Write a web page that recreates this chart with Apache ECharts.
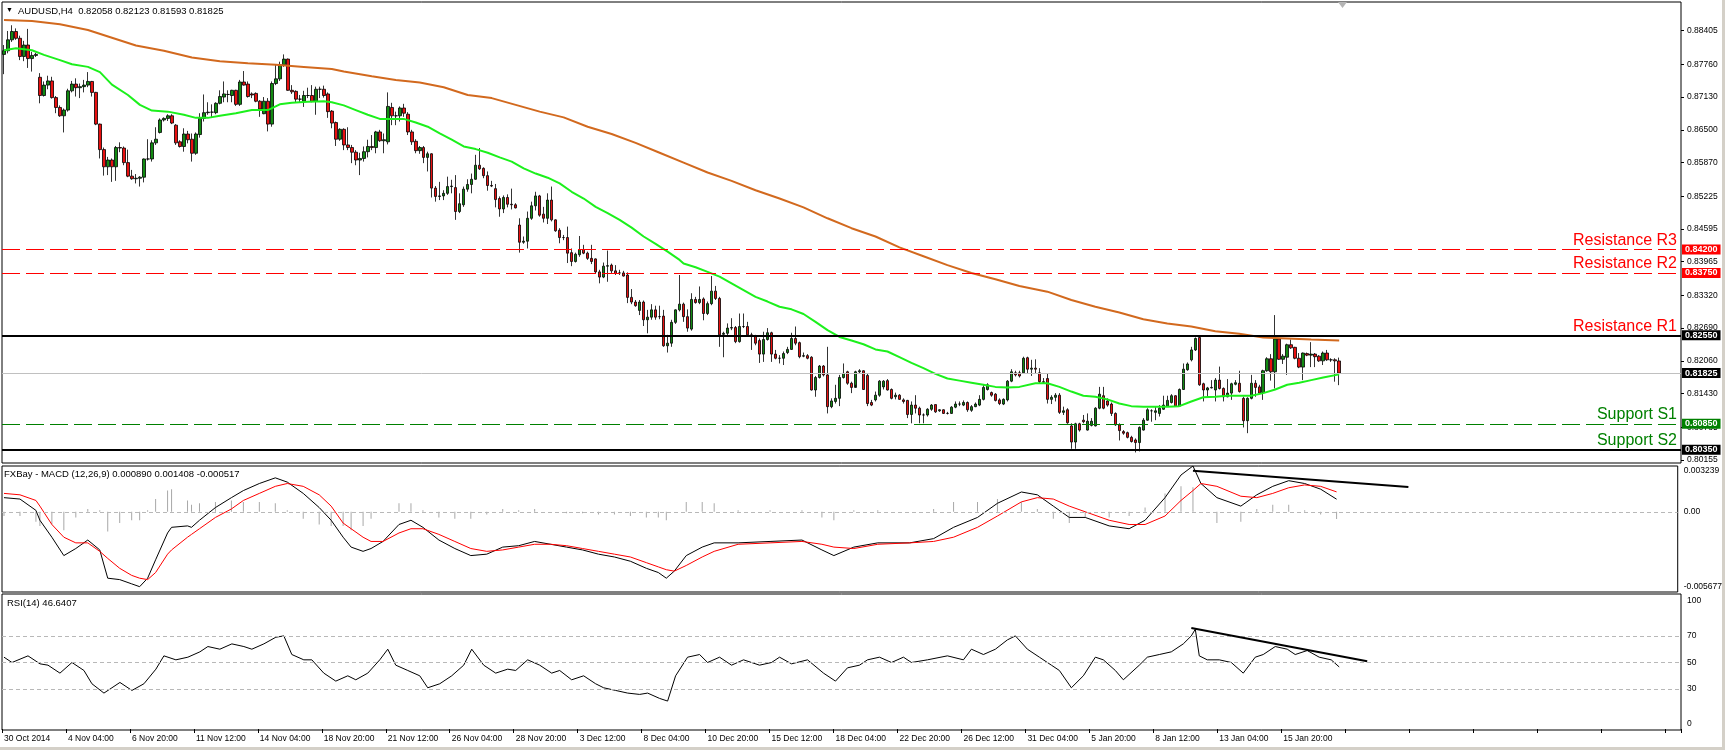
<!DOCTYPE html>
<html><head><meta charset="utf-8">
<script src="https://cdn.jsdelivr.net/npm/echarts@6/dist/echarts.min.js"></script>
<style>html,body{margin:0;padding:0;background:#fff;}#c{width:1725px;height:750px;}</style>
</head><body><div id="c"></div>
<script>
const tickLabels = ['30 Oct 2014','4 Nov 04:00','6 Nov 20:00','11 Nov 12:00','14 Nov 04:00','18 Nov 20:00','21 Nov 12:00','26 Nov 04:00','28 Nov 20:00','3 Dec 12:00','8 Dec 04:00','10 Dec 20:00','15 Dec 12:00','18 Dec 04:00','22 Dec 20:00','26 Dec 12:00','31 Dec 04:00','5 Jan 20:00','8 Jan 12:00','13 Jan 04:00','15 Jan 20:00'];

const opens = [.8795,.8802,.8823,.8839,.8826,.8791,.8813,.8787,.8793,.8751,.8716,.8736,.8744,.8712,.8693,.8677,.8688,.8725,.8738,.8731,.8733,.8736,.8743,.8722,.8661,.8612,.8579,.8592,.8579,.8616,.8615,.8587,.8561,.8556,.8557,.8559,.8594,.8594,.8625,.8645,.8669,.8672,.8677,.8659,.8627,.8618,.8642,.8632,.8605,.8641,.8672,.8683,.8684,.8683,.8701,.8713,.8718,.8716,.8726,.8699,.8742,.8738,.8719,.8720,.8705,.8681,.8705,.8661,.8739,.8748,.8775,.8786,.8726,.8724,.8709,.8705,.8716,.8716,.8705,.8728,.8728,.8719,.8686,.8664,.8632,.8651,.8621,.8616,.8607,.8592,.8595,.8608,.8618,.8616,.8646,.8629,.8627,.8693,.8677,.8677,.8692,.8680,.8646,.8628,.8610,.8616,.8597,.8604,.8538,.8522,.8523,.8528,.8541,.8539,.8493,.8506,.8536,.8545,.8555,.8582,.8576,.8562,.8543,.8537,.8518,.8498,.8520,.8507,.8506,.8467,.8434,.8436,.8480,.8504,.8523,.8488,.8480,.8515,.8477,.8457,.8443,.8443,.8414,.8397,.8410,.8420,.8413,.8403,.8402,.8377,.8367,.8388,.8390,.8379,.8375,.8375,.8371,.8328,.8319,.8303,.8319,.8285,.8290,.8304,.8291,.8292,.8235,.8240,.8280,.8304,.8315,.8291,.8267,.8324,.8318,.8325,.8297,.8316,.8340,.8326,.8257,.8259,.8269,.8270,.8243,.8272,.8272,.8256,.8253,.8245,.8219,.8247,.8260,.8219,.8211,.8211,.8222,.8228,.8249,.8241,.8215,.8216,.8213,.8150,.8174,.8196,.8179,.8118,.8128,.8134,.8174,.8185,.8163,.8155,.8185,.8187,.8178,.8126,.8131,.8140,.8156,.8168,.8151,.8137,.8140,.8131,.8130,.8103,.8121,.8115,.8102,.8102,.8113,.8122,.8110,.8112,.8105,.8105,.8117,.8123,.8121,.8126,.8111,.8118,.8121,.8132,.8151,.8145,.8142,.8131,.8123,.8131,.8167,.8183,.8183,.8183,.8212,.8190,.8192,.8183,.8166,.8172,.8132,.8136,.8140,.8107,.8112,.8081,.8050,.8085,.8092,.8073,.8082,.8081,.8115,.8139,.8129,.8123,.8105,.8083,.8070,.8068,.8059,.8054,.8049,.8073,.8092,.8110,.8107,.8105,.8113,.8119,.8126,.8139,.8119,.8151,.8189,.8208,.8227,.8251,.8162,.8150,.8154,.8150,.8169,.8153,.8137,.8144,.8161,.8163,.8134,.8091,.8134,.8163,.8156,.8145,.8187,.8210,.8185,.8248,.8209,.8213,.8237,.8232,.8211,.8194,.8220,.8217,.8219,.8215,.8206,.8221,.8208,.8208,.82058];
const closes = [.8802,.8823,.8839,.8826,.8791,.8813,.8787,.8793,.8795,.8716,.8736,.8744,.8712,.8693,.8677,.8688,.8725,.8738,.8731,.8733,.8736,.8743,.8722,.8661,.8612,.8579,.8592,.8579,.8616,.8615,.8587,.8561,.8556,.8557,.8559,.8594,.8594,.8625,.8632,.8669,.8672,.8677,.8663,.8625,.8618,.8642,.8631,.8605,.8642,.8672,.8683,.8684,.8684,.8701,.8714,.8719,.8718,.8726,.8699,.8742,.8736,.8714,.8717,.8705,.8690,.8705,.8661,.8739,.8748,.8775,.8786,.8726,.8723,.8709,.8709,.8716,.8716,.8705,.8728,.8728,.8716,.8685,.8663,.8632,.8651,.8621,.8616,.8607,.8592,.8595,.8608,.8618,.8616,.8646,.8629,.8631,.8695,.8677,.8677,.8692,.8682,.8646,.8627,.8610,.8616,.8597,.8604,.8538,.8522,.8523,.8528,.8541,.8542,.8493,.8508,.8536,.8545,.8555,.8582,.8575,.8562,.8543,.8542,.8516,.8498,.8520,.8507,.8506,.8500,.8434,.8436,.8480,.8504,.8523,.8486,.8480,.8515,.8477,.8456,.8443,.8443,.8413,.8397,.8411,.8420,.8413,.8403,.8397,.8377,.8367,.8388,.8389,.8379,.8374,.8375,.8369,.8328,.8319,.8312,.8319,.8285,.8290,.8304,.8290,.8291,.8235,.8240,.8280,.8304,.8315,.8291,.8269,.8324,.8318,.8324,.8297,.8316,.8340,.8326,.8256,.8259,.8269,.8270,.8243,.8272,.8272,.8256,.8254,.8240,.8219,.8247,.8260,.8219,.8211,.8211,.8220,.8228,.8249,.8240,.8214,.8216,.8211,.8150,.8174,.8196,.8179,.8118,.8129,.8134,.8174,.8182,.8163,.8155,.8185,.8187,.8151,.8124,.8121,.8140,.8167,.8167,.8150,.8134,.8140,.8132,.8128,.8103,.8121,.8115,.8102,.8102,.8113,.8121,.8108,.8112,.8105,.8105,.8117,.8123,.8123,.8126,.8112,.8118,.8123,.8132,.8155,.8160,.8140,.8130,.8124,.8132,.8167,.8185,.8179,.8177,.8211,.8190,.8192,.8190,.8166,.8165,.8132,.8136,.8140,.8107,.8110,.8087,.8050,.8085,.8073,.8089,.8090,.8090,.8115,.8142,.8115,.8121,.8105,.8083,.8072,.8067,.8059,.8051,.8049,.8078,.8092,.8112,.8110,.8110,.8115,.8121,.8130,.8139,.8119,.8151,.8190,.8200,.8227,.8249,.8160,.8150,.8154,.8155,.8169,.8153,.8137,.8144,.8162,.8164,.8147,.8091,.8134,.8163,.8155,.8144,.8187,.8210,.8185,.8248,.8209,.8215,.8237,.8231,.8211,.8194,.8221,.8217,.8219,.8214,.8206,.8221,.8208,.8208,.8206,.81825];
const highs = [.8813,.8840,.8851,.8845,.8831,.8821,.8844,.8800,.8798,.8759,.8743,.8754,.8752,.8715,.8697,.8691,.8729,.8744,.8749,.8739,.8746,.8761,.8744,.8723,.8662,.8616,.8598,.8595,.8619,.8626,.8618,.8612,.8573,.8565,.8561,.8595,.8632,.8630,.8655,.8672,.8674,.8680,.8680,.8661,.8630,.8653,.8648,.8643,.8645,.8682,.8718,.8703,.8699,.8703,.8726,.8743,.8726,.8727,.8727,.8746,.8763,.8743,.8722,.8722,.8707,.8713,.8711,.8743,.8775,.8781,.8795,.8787,.8736,.8726,.8717,.8725,.8731,.8736,.8733,.8733,.8735,.8722,.8688,.8666,.8653,.8653,.8655,.8621,.8611,.8606,.8618,.8631,.8640,.8648,.8650,.8643,.8722,.8702,.8685,.8695,.8700,.8684,.8650,.8632,.8619,.8619,.8608,.8605,.8542,.8550,.8534,.8560,.8554,.8563,.8528,.8541,.8555,.8566,.8602,.8615,.8578,.8570,.8552,.8546,.8522,.8524,.8526,.8537,.8509,.8480,.8445,.8493,.8512,.8531,.8525,.8502,.8528,.8541,.8478,.8461,.8448,.8464,.8422,.8414,.8446,.8429,.8416,.8429,.8403,.8381,.8395,.8418,.8393,.8390,.8381,.8379,.8376,.8344,.8323,.8323,.8322,.8304,.8315,.8312,.8312,.8304,.8256,.8285,.8305,.8371,.8318,.8305,.8336,.8329,.8349,.8328,.8320,.8369,.8350,.8329,.8262,.8278,.8288,.8273,.8297,.8297,.8281,.8260,.8256,.8249,.8262,.8269,.8262,.8227,.8217,.8224,.8233,.8260,.8272,.8243,.8222,.8219,.8215,.8177,.8198,.8198,.8233,.8134,.8160,.8179,.8201,.8187,.8166,.8187,.8190,.8188,.8181,.8131,.8147,.8169,.8169,.8171,.8153,.8145,.8142,.8134,.8131,.8128,.8140,.8118,.8105,.8115,.8123,.8122,.8113,.8113,.8108,.8119,.8128,.8128,.8130,.8128,.8121,.8126,.8140,.8160,.8163,.8147,.8144,.8134,.8134,.8169,.8190,.8187,.8187,.8214,.8214,.8208,.8209,.8192,.8173,.8182,.8140,.8144,.8144,.8118,.8115,.8086,.8087,.8087,.8102,.8105,.8096,.8117,.8156,.8156,.8134,.8126,.8107,.8086,.8073,.8070,.8062,.8057,.8080,.8096,.8115,.8113,.8118,.8121,.8139,.8139,.8142,.8140,.8153,.8201,.8203,.8233,.8251,.8254,.8164,.8156,.8169,.8173,.8195,.8155,.8171,.8164,.8169,.8187,.8137,.8136,.8179,.8169,.8160,.8189,.8213,.8219,.8294,.8249,.8219,.8239,.8247,.8233,.8221,.8222,.8222,.8242,.8221,.8217,.8224,.8227,.8211,.8211,.82123];
const lows = [.8757,.8797,.8819,.8823,.8784,.8782,.8769,.8762,.8790,.8701,.8714,.8728,.8710,.8682,.8675,.8645,.8685,.8722,.8714,.8711,.8722,.8732,.8714,.8659,.8595,.8562,.8563,.8550,.8552,.8607,.8582,.8559,.8554,.8547,.8541,.8549,.8591,.8589,.8621,.8643,.8666,.8667,.8661,.8621,.8616,.8608,.8624,.8589,.8602,.8635,.8666,.8679,.8673,.8680,.8699,.8703,.8703,.8703,.8696,.8696,.8735,.8712,.8711,.8703,.8675,.8680,.8647,.8656,.8736,.8744,.8771,.8725,.8719,.8703,.8703,.8694,.8711,.8703,.8679,.8711,.8712,.8673,.8653,.8619,.8629,.8611,.8611,.8586,.8582,.8563,.8589,.8597,.8611,.8605,.8627,.8605,.8622,.8659,.8659,.8666,.8675,.8640,.8621,.8605,.8604,.8586,.8570,.8520,.8512,.8515,.8515,.8525,.8528,.8477,.8490,.8502,.8531,.8528,.8554,.8573,.8557,.8533,.8540,.8501,.8483,.8490,.8501,.8497,.8499,.8414,.8431,.8422,.8477,.8495,.8483,.8472,.8469,.8474,.8454,.8432,.8438,.8394,.8388,.8395,.8406,.8411,.8400,.8392,.8374,.8355,.8365,.8358,.8374,.8371,.8371,.8368,.8317,.8315,.8310,.8294,.8273,.8259,.8285,.8285,.8286,.8233,.8222,.8233,.8277,.8301,.8281,.8262,.8264,.8316,.8315,.8284,.8294,.8313,.8323,.8233,.8213,.8254,.8265,.8240,.8241,.8269,.8252,.8227,.8236,.8202,.8204,.8245,.8204,.8209,.8201,.8198,.8219,.8227,.8236,.8211,.8213,.8209,.8149,.8137,.8172,.8176,.8105,.8115,.8124,.8119,.8172,.8160,.8144,.8160,.8182,.8150,.8119,.8119,.8128,.8137,.8151,.8149,.8132,.8132,.8131,.8124,.8096,.8086,.8105,.8086,.8086,.8099,.8110,.8106,.8108,.8104,.8103,.8104,.8115,.8119,.8119,.8108,.8108,.8117,.8119,.8130,.8149,.8137,.8128,.8121,.8121,.8128,.8165,.8176,.8174,.8181,.8181,.8177,.8182,.8163,.8163,.8124,.8123,.8128,.8104,.8102,.8085,.8037,.8037,.8070,.8086,.8072,.8080,.8080,.8113,.8113,.8118,.8100,.8081,.8053,.8064,.8057,.8049,.8030,.8032,.8072,.8091,.8089,.8092,.8099,.8112,.8118,.8124,.8118,.8118,.8150,.8187,.8205,.8225,.8158,.8128,.8137,.8153,.8128,.8151,.8128,.8136,.8131,.8159,.8145,.8078,.8067,.8132,.8137,.8142,.8131,.8185,.8168,.8153,.8208,.8200,.8179,.8229,.8209,.8192,.8169,.8215,.8194,.8194,.8204,.8198,.8206,.8204,.8166,.81593];

const fastMA = [[0,.8803],[3,.8807],[7,.8803],[10,.8794],[14,.8784],[17,.8776],[21,.8771],[24,.8761],[27,.8737],[31,.8717],[34,.8698],[37,.8687],[41,.8685],[45,.8679],[48,.8673],[51,.8673],[54,.8677],[58,.8682],[62,.8688],[66,.8688],[69,.8699],[72,.8702],[76,.8704],[80,.8705],[82,.8703],[85,.8697],[88,.8688],[91,.8679],[94,.8671],[97,.8671],[100,.8671],[103,.8664],[106,.8656],[109,.8643],[112,.8631],[115,.8618],[118,.8613],[121,.8606],[124,.8597],[127,.8589],[130,.8576],[133,.8566],[136,.8558],[139,.8547],[142,.8531],[145,.8518],[148,.8502],[151,.8490],[154,.8477],[157,.8462],[160,.8445],[163,.8431],[166,.8416],[169,.8400],[170,.8393],[173,.8386],[176,.8377],[179,.8368],[182,.8355],[185,.8342],[188,.8329],[191,.8320],[194,.8310],[197,.8305],[200,.8296],[203,.8281],[206,.8265],[209,.8252],[212,.8245],[215,.8238],[218,.8228],[221,.8224],[224,.8213],[227,.8202],[230,.8192],[233,.8181],[236,.8172],[239,.8168],[242,.8164],[245,.8160],[248,.8156],[251,.8155],[254,.8156],[258,.8163],[261,.8163],[264,.8156],[267,.8147],[270,.8139],[273,.8137],[276,.8132],[279,.8124],[282,.8119],[285,.8118],[288,.8118],[291,.8118],[294,.8119],[297,.8128],[300,.8136],[303,.8137],[306,.8139],[309,.8139],[312,.8139],[315,.8144],[318,.8151],[321,.8160],[324,.8164],[327,.8169],[330,.8174],[334,.8180]];
const slowMA = [[0,.8861],[7,.8859],[14,.8853],[21,.8842],[27,.8827],[33,.8812],[40,.8802],[47,.8789],[54,.8782],[61,.8778],[68,.8775],[75,.8771],[82,.8767],[85,.8762],[92,.8753],[98,.8746],[104,.8741],[110,.8732],[116,.8717],[122,.8711],[128,.8698],[134,.8685],[140,.8674],[146,.8656],[152,.8642],[158,.8625],[164,.8606],[170,.8587],[176,.8568],[182,.8552],[188,.8534],[194,.8518],[200,.8501],[206,.8480],[212,.8461],[218,.8445],[224,.8424],[230,.8407],[236,.8390],[242,.8375],[248,.8363],[254,.8350],[261,.8339],[267,.8323],[273,.8310],[279,.8299],[285,.8286],[291,.8278],[297,.8272],[303,.8263],[309,.8258],[315,.8251],[321,.8249],[327,.8247],[334,.8245]];

const macdBars = [0,4,8,9,12,15,18,21,24,26,29,32,34,36,38,41,42,46,47,49,53,57,60,64,68,71,75,79,82,85,87,90,92,95,99,102,105,109,113,117,121,125,129,133,137,141,145,149,153,157,161,164,166,168,171,175,178,184,192,200,205,208,213,219,227,233,238,244,249,255,259,263,267,271,277,282,286,291,295,298,300,304,310,314,318,322,326,330,334];
const macdMain = [.0010,.0009,.0001,-.0006,-.0018,-.0031,-.0026,-.0020,-.0027,-.0047,-.0048,-.0051,-.0053,-.0047,-.0034,-.0015,-.0011,-.0010,-.0011,-.0006,.0003,.0010,.0015,.0020,.0024,.0021,.0013,.0003,-.0006,-.0018,-.0025,-.0028,-.0026,-.0021,-.0009,-.0006,-.0011,-.0020,-.0026,-.0031,-.0030,-.0025,-.0024,-.0021,-.0023,-.0025,-.0027,-.0030,-.0032,-.0035,-.0040,-.0043,-.0047,-.0042,-.0031,-.0025,-.0022,-.0022,-.0021,-.0020,-.0027,-.0031,-.0025,-.0022,-.0022,-.0019,-.0011,-.0004,.0006,.0014,.0012,.0004,-.0004,-.0004,-.0010,-.0012,-.0006,.0010,.0026,.00324,.0020,.0010,.0004,.0012,.0018,.0022,.0020,.0016,.00089];
const macdSignal = [.0013,.0012,.0008,.0004,-.0009,-.0018,-.0022,-.0022,-.0028,-.0033,-.0040,-.0045,-.0047,-.0048,-.0043,-.0030,-.0027,-.0018,-.0016,-.0012,-.0004,.0002,.0008,.0013,.0018,.0020,.0018,.0012,.0004,-.0008,-.0012,-.0018,-.0021,-.0021,-.0015,-.0012,-.0012,-.0016,-.0021,-.0026,-.0028,-.0027,-.0025,-.0023,-.0023,-.0024,-.0026,-.0028,-.0030,-.0032,-.0036,-.0039,-.0041,-.0042,-.0038,-.0032,-.0028,-.0023,-.0022,-.0021,-.0023,-.0025,-.0026,-.0023,-.0022,-.0021,-.0018,-.0011,-.0003,.0007,.0010,.0009,.0004,.0000,-.0006,-.0009,-.0009,-.0003,.0008,.0015,.0020,.0018,.0011,.0010,.0013,.0017,.0019,.0018,.001408];

const rsiBars = [0,2,6,9,11,14,17,20,22,25,27,29,32,35,38,40,43,46,49,51,54,57,60,62,65,68,70,72,75,77,80,83,86,88,91,94,96,98,101,104,106,109,112,115,117,120,123,126,128,131,134,137,139,142,145,148,150,153,156,159,161,164,166,168,171,174,176,179,182,185,189,192,194,197,201,205,208,211,214,216,219,222,225,227,231,236,240,242,245,248,251,253,256,259,262,264,267,270,273,275,278,280,284,286,289,292,295,297,298,299,301,304,307,310,313,315,318,321,323,326,329,332,334];
const rsiVals = [54,50,55,49,48,42,50,44,34,27,31,35,29,34,45,55,52,54,58,62,60,64,62,60,64,69,70,56,52,52,42,36,40,37,42,52,60,48,44,40,31,34,40,48,60,48,42,45,44,52,48,42,44,37,40,34,31,29,27,26,27,23,21,40,54,56,50,54,48,52,48,50,54,49,52,42,36,46,48,52,54,50,54,50,52,55,52,60,56,60,67,70,60,54,48,44,31,40,54,52,44,37,48,54,56,58,64,70,75,55,52,52,50,42,54,56,62,60,56,59,54,52,46.64];

const mainTicks = [0.88405,0.87760,0.87130,0.86500,0.85870,0.85225,0.84595,0.83965,0.83320,0.82690,0.82060,0.81430,0.80785,0.80155];
const macdTicks = [0.003239,0,-0.005677];
const rsiTicks = [100,70,50,30,0];
const rsiLevels = [70,50,30];

const levelNames = ['Resistance R3','Resistance R2','Resistance R1','','Support S1','Support S2'];
const levelValues = [0.84200,0.83750,0.82550,0.81825,0.80850,0.80350];
const macdTrend = [[298,0.0029],[352,0.00175]];
const rsiTrend = [[297,76],[341,51]];

const FONT = 'Liberation Sans, Arial, sans-serif';
const NCAT = 420;
const cats = Array.from({length:NCAT},(_,i)=>'b'+i);
const candleData = closes.map((c,i)=>[opens[i],c,lows[i],highs[i]]);

const levelColors = ['#ff0000','#ff0000','#000000','#c0c0c0','#008000','#000000'];
const boxColors = ['#ff0000','#ff0000','#000000','#000000','#008000','#000000'];
const textColors = ['#ff0000','#ff0000','#ff0000','#000','#008000','#008000'];
const lineTypes = [[18,6],[18,6],'solid','solid',[18,6],'solid'];
const lineWidths = [1,1,2,1,1,2];

const levelMarks = [];
levelValues.forEach((v,k)=>{
  levelMarks.push({yAxis:v, lineStyle:{color:levelColors[k], type:lineTypes[k], width:lineWidths[k], opacity:1},
    label:{show: levelNames[k]!=='', position:'insideEndTop', formatter: levelNames[k], color:textColors[k], fontSize:16, fontFamily:FONT, distance:[4,1], opacity:1}});
});
levelValues.forEach((v,k)=>{
  levelMarks.push({yAxis:v, lineStyle:{color:'rgba(0,0,0,0)', width:0.1, opacity:1},
    label:{show:true, position:'end', formatter: v.toFixed(5), color:'#fff', backgroundColor:boxColors[k], fontSize:9, fontWeight:'bold', fontFamily:FONT, padding:[1,3,0,3], distance:1, opacity:1}});
});

function gridBox(top,h){return {left:2, top:top, width:1679, height:h, show:true, borderColor:'#000', borderWidth:1, backgroundColor:'#fff'};}
function xAx(gi, showLab){
  return {type:'category', gridIndex:gi, data:cats, boundaryGap:true,
    axisLine:{show:false},
    axisTick:{show:showLab, interval:15, length:4, lineStyle:{color:'#000'}},
    axisLabel:{show:showLab, interval:15, align:'left', margin:4, fontSize:8.5, fontFamily:FONT, color:'#000',
      formatter:(val,idx)=> (idx%16===0 && tickLabels[idx/16]) ? tickLabels[idx/16] : ''},
    splitLine:{show:false}};
}
const edgeRich = {t:{padding:[10,0,0,0], fontSize:8.5, fontFamily:FONT, color:'#000'}, b:{padding:[0,0,11,0], fontSize:8.5, fontFamily:FONT, color:'#000'}};

const option = {
  animation:false,
  backgroundColor:'#fff',
  grid:[gridBox(2,461), gridBox(466,126), gridBox(594,136)],
  xAxis:[xAx(0,false), xAx(1,false), xAx(2,true)],
  yAxis:[
    {type:'value', gridIndex:0, position:'right', min:0.80097, max:0.88957, scale:true,
     splitLine:{show:false}, axisLine:{show:false},
     axisTick:{show:true, customValues:mainTicks, length:3, lineStyle:{color:'#000'}},
     axisLabel:{customValues:mainTicks, formatter:v=>v.toFixed(5), fontSize:8.5, fontFamily:FONT, color:'#000', margin:6}},
    {type:'value', gridIndex:1, position:'right', min:-0.005677, max:0.003239, scale:true,
     splitLine:{show:false}, axisLine:{show:false},
     axisTick:{show:false},
     axisLabel:{customValues:macdTicks, fontSize:8.5, fontFamily:FONT, color:'#000', margin:6, rich:edgeRich,
       formatter:v=> v===0 ? '0.00' : (v>0 ? '{t|'+v.toFixed(6)+'}' : '{b|'+v.toFixed(6)+'}')}},
    {type:'value', gridIndex:2, position:'right', min:-0.75, max:101.5,
     splitLine:{show:false}, axisLine:{show:false},
     axisTick:{show:false},
     axisLabel:{customValues:rsiTicks, fontSize:8.5, fontFamily:FONT, color:'#000', margin:6, rich:edgeRich,
       formatter:v=> v===100 ? '{t|100}' : (v===0 ? '{b|0}' : String(v))}}
  ],
  series:[
    {type:'candlestick', xAxisIndex:0, yAxisIndex:0, data:candleData, barWidth:3, z:2,
     itemStyle:{color:'#128a12', color0:'#e81010', borderColor:'#000', borderColor0:'#000', borderColorDoji:'#000', borderWidth:0.8}},
    {type:'line', xAxisIndex:0, yAxisIndex:0, data:slowMA, showSymbol:false, z:3,
     lineStyle:{color:'#d2691e', width:2}},
    {type:'line', xAxisIndex:0, yAxisIndex:0, data:fastMA, showSymbol:false, z:3,
     lineStyle:{color:'#1cf01c', width:2},
     markLine:{symbol:'none', silent:true, animation:false, precision:6, data:levelMarks}},
    {type:'bar', xAxisIndex:1, yAxisIndex:1, data:macdBars.map((b,i)=>[b, macdMain[i]-macdSignal[i]]), barWidth:1,
     itemStyle:{color:'#a8a8a8'},
     markLine:{symbol:'none', silent:true, animation:false, precision:6, label:{show:false},
       data:[{yAxis:0, lineStyle:{color:'#b8b8b8', type:[4,3], width:1}},
             [{coord:macdTrend[0], lineStyle:{color:'#000', width:2, type:'solid'}},{coord:macdTrend[1]}]]}},
    {type:'line', xAxisIndex:1, yAxisIndex:1, data:macdBars.map((b,i)=>[b, macdMain[i]]), showSymbol:false,
     lineStyle:{color:'#000', width:1}},
    {type:'line', xAxisIndex:1, yAxisIndex:1, data:macdBars.map((b,i)=>[b, macdSignal[i]]), showSymbol:false,
     lineStyle:{color:'#ff0000', width:1}},
    {type:'line', xAxisIndex:2, yAxisIndex:2, data:rsiBars.map((b,i)=>[b, rsiVals[i]]), showSymbol:false,
     lineStyle:{color:'#000', width:1},
     markLine:{symbol:'none', silent:true, animation:false, precision:4, label:{show:false},
       data: rsiLevels.map(v=>({yAxis:v, lineStyle:{color:'#b8b8b8', type:[4,3], width:1}}))
         .concat([[{coord:rsiTrend[0], lineStyle:{color:'#000', width:2, type:'solid'}},{coord:rsiTrend[1]}]])}}
  ],
  graphic:[
    {type:'text', left:6, top:7, style:{text:'▼', font:'7px '+FONT, fill:'#000'}},
    {type:'text', left:18, top:6, style:{text:'AUDUSD,H4  '+[opens,highs,lows,closes].map(a=>a[a.length-1].toFixed(5)).join(' '), font:'9.5px '+FONT, fill:'#000'}},
    {type:'text', left:4, top:469, style:{text:'FXBay - MACD (12,26,9) 0.000890 0.001408 -0.000517', font:'9.5px '+FONT, fill:'#000'}},
    {type:'text', left:7, top:598, style:{text:'RSI(14) 46.6407', font:'9.5px '+FONT, fill:'#000'}},
    {type:'polygon', shape:{points:[[1338,2],[1347,2],[1342.5,8]]}, style:{fill:'#b4b4b4'}},
    {type:'rect', shape:{x:0,y:747,width:1725,height:3}, style:{fill:'#d4d0c8'}},
    {type:'rect', shape:{x:1722,y:0,width:3,height:750}, style:{fill:'#d4d0c8'}}
  ]
};
const chart = echarts.init(document.getElementById('c'), null, {renderer:'canvas'});
chart.setOption(option);
</script>
</body></html>
